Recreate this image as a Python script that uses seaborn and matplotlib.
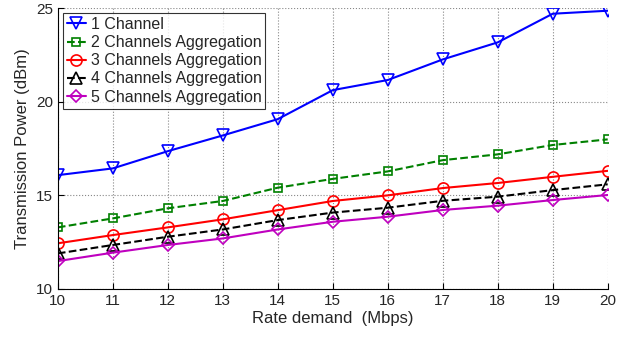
import matplotlib
matplotlib.use("Agg")
import matplotlib.pyplot as plt
import seaborn as sns
import pandas as pd

rate = [10, 11, 12, 13, 14, 15, 16, 17, 18, 19, 20]
ch1 = [16.08, 16.44, 17.36, 18.2, 19.07, 20.62, 21.16, 22.26, 23.17, 24.7, 24.86]
ch2 = [13.29, 13.77, 14.31, 14.70, 15.41, 15.88, 16.28, 16.88, 17.19, 17.69, 17.99]
ch3 = [12.44, 12.88, 13.29, 13.72, 14.21, 14.70, 15.00, 15.39, 15.66, 15.99, 16.31]
ch4 = [11.90, 12.35, 12.79, 13.18, 13.68, 14.08, 14.34, 14.71, 14.93, 15.28, 15.59]
ch5 = [11.49, 11.94, 12.35, 12.70, 13.18, 13.59, 13.86, 14.22, 14.45, 14.75, 15.02]
labels = ["1 Channel", "2 Channels Aggregation", "3 Channels Aggregation",
          "4 Channels Aggregation", "5 Channels Aggregation"]
series = [ch1, ch2, ch3, ch4, ch5]

colors = ["#0000ff", "#008000", "#ff0000", "#000000", "#bf00bf"]
markers = ["v", "s", "o", "^", "D"]
styles = ["-", "--", "-", "--", "-"]
msizes = [8, 6, 8, 8, 6]

sns.set_style("white")
plt.rcParams['font.family'] = ['Liberation Sans', 'DejaVu Sans']

fig = plt.figure(figsize=(6.22, 3.38), dpi=100)
ax = fig.add_axes([0.093, 0.145, 0.884, 0.831])

for lab, vals, c, m, ls, ms in zip(labels, series, colors, markers, styles, msizes):
    df = pd.DataFrame({"x": rate, "y": vals})
    sns.lineplot(data=df, x="x", y="y", ax=ax, color=c, marker=m, linestyle=ls,
                 markersize=ms, markerfacecolor="none", markeredgecolor=c,
                 markeredgewidth=1.2, linewidth=1.5, label=lab)

ax.set_xlim(10, 20)
ax.set_ylim(10, 25)
ax.set_xticks(rate)
ax.set_yticks([10, 15, 20, 25])
ax.grid(True, linestyle=":", color="#888888", linewidth=0.8)
ax.tick_params(direction="in", length=4, labelsize=11, color="black",
               left=True, bottom=True)
for s in ["top", "right"]:
    ax.spines[s].set_visible(False)
for s in ["left", "bottom"]:
    ax.spines[s].set_color("black")
    ax.spines[s].set_linewidth(0.8)
ax.set_xlabel("Rate demand  (Mbps)", fontsize=12, labelpad=2)
ax.set_ylabel("Transmission Power (dBm)", fontsize=12)

leg = ax.legend(loc="upper left", fontsize=11.5, frameon=True, fancybox=False,
                edgecolor="black", borderpad=0.25, labelspacing=0.2,
                handlelength=1.2, handletextpad=0.3, borderaxespad=0.3)
leg.get_frame().set_linewidth(0.8)

fig.savefig("out.png", dpi=100)
